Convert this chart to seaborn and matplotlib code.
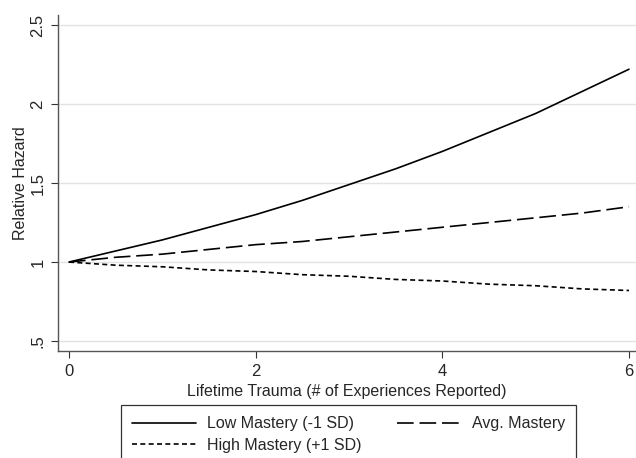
import numpy as np
import pandas as pd
import matplotlib
matplotlib.use("Agg")
import matplotlib.pyplot as plt
import seaborn as sns
from matplotlib.lines import Line2D

# values
trauma = [0, 0.5, 1, 1.5, 2, 2.5, 3, 3.5, 4, 4.5, 5, 5.5, 6]
low_mastery = [1.00, 1.07, 1.14, 1.22, 1.30, 1.39, 1.49, 1.59, 1.70, 1.82, 1.94, 2.08, 2.22]
avg_mastery = [1.00, 1.03, 1.05, 1.08, 1.11, 1.13, 1.16, 1.19, 1.22, 1.25, 1.28, 1.31, 1.35]
high_mastery = [1.00, 0.98, 0.97, 0.95, 0.94, 0.92, 0.91, 0.89, 0.88, 0.86, 0.85, 0.83, 0.82]
labels = ["Low Mastery (-1 SD)", "Avg. Mastery", "High Mastery (+1 SD)"]
yticks = [0.5, 1, 1.5, 2, 2.5]
ytick_labels = [".5", "1", "1.5", "2", "2.5"]
xticks = [0, 2, 4, 6]

df = pd.concat([
    pd.DataFrame({"x": trauma, "y": low_mastery, "group": labels[0]}),
    pd.DataFrame({"x": trauma, "y": avg_mastery, "group": labels[1]}),
    pd.DataFrame({"x": trauma, "y": high_mastery, "group": labels[2]}),
])

sns.set_style("white")
plt.rcParams["font.family"] = ["Liberation Sans", "DejaVu Sans"]

fig = plt.figure(figsize=(6.36, 4.58), dpi=100)
ax = fig.add_axes([0.0912, 0.2336, 0.9088, 0.7336])

dashes = {labels[0]: "", labels[1]: (10, 3.5), labels[2]: (3, 2)}
sns.lineplot(data=df, x="x", y="y", hue="group", style="group",
             palette=["black"] * 3, dashes=dashes, linewidth=1.2,
             ax=ax, legend=False)

ax.set_xlim(-0.118, 6.075)
ax.set_ylim(0.437, 2.563)
ax.set_yticks(yticks)
ax.set_yticklabels(ytick_labels, rotation=90, va="center")
ax.set_xticks(xticks)
for y in yticks:
    ax.axhline(y, color="#e3e3e3", lw=1, zorder=0)

for s in ["top", "right"]:
    ax.spines[s].set_visible(False)
for s in ["left", "bottom"]:
    ax.spines[s].set_color("#555555")
    ax.spines[s].set_linewidth(1)
ax.tick_params(direction="out", length=5, width=0.8, color="#333333",
               labelsize=12, pad=4, left=True, bottom=True)

ax.set_xlabel("Lifetime Trauma (# of Experiences Reported)", fontsize=11.5, labelpad=4)
ax.set_ylabel("Relative Hazard", fontsize=11.5, labelpad=2)

handles = [
    Line2D([], [], color="black", lw=1.2),
    Line2D([], [], color="black", lw=1.2, dashes=(10, 3.5)),
    Line2D([], [], color="black", lw=1.2, dashes=(3, 2)),
]
leg = fig.legend(handles=[handles[0], handles[2], handles[1]],
                 labels=[labels[0], labels[2], labels[1]],
                 ncol=2, loc="upper left", bbox_to_anchor=(121 / 636, 1 - 405 / 458),
                 fontsize=11.5, frameon=True, fancybox=False, edgecolor="black",
                 handlelength=4.0, handletextpad=0.7, columnspacing=2.2,
                 borderpad=0.7, labelspacing=0.4, borderaxespad=0)
leg.get_frame().set_linewidth(0.9)

fig.savefig("out.png", dpi=100)
